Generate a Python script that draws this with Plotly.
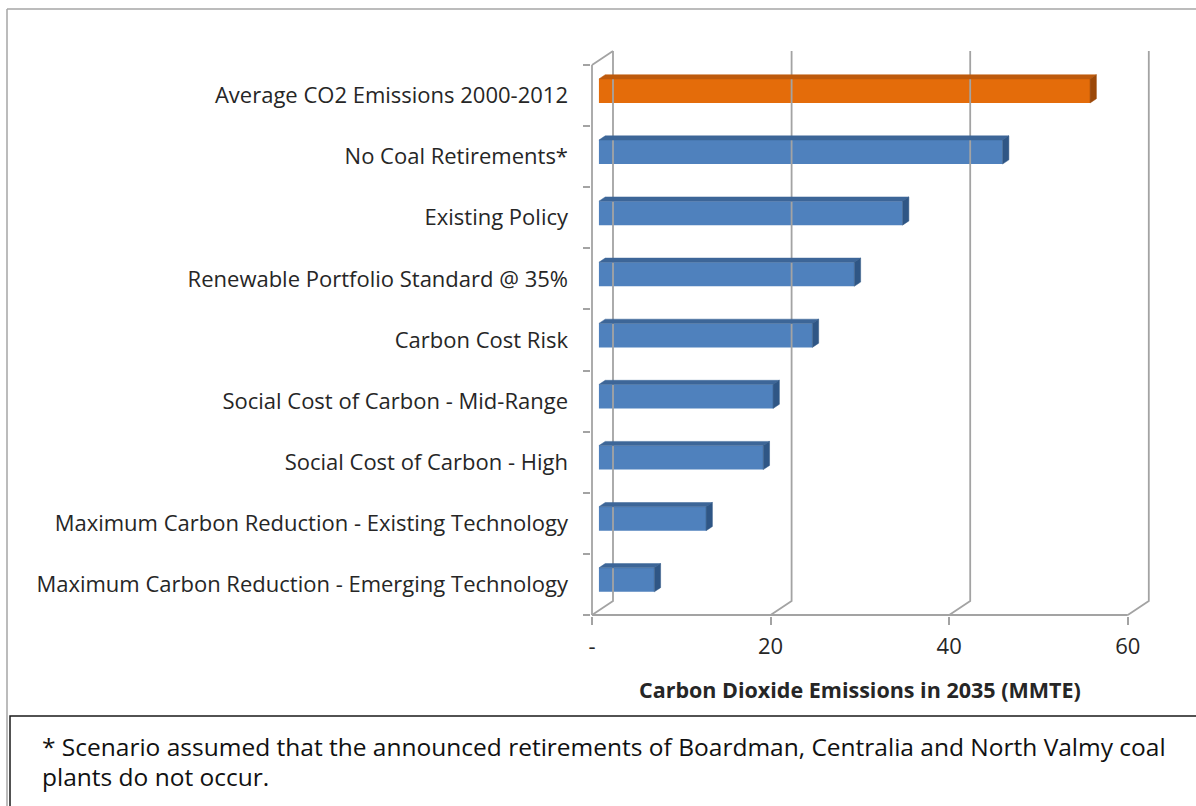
import plotly.graph_objects as go

# ---- data -------------------------------------------------------------
categories = [
    "Average CO2 Emissions 2000-2012",
    "No Coal Retirements*",
    "Existing Policy",
    "Renewable Portfolio Standard @ 35%",
    "Carbon Cost Risk",
    "Social Cost of Carbon - Mid-Range",
    "Social Cost of Carbon - High",
    "Maximum Carbon Reduction - Existing Technology",
    "Maximum Carbon Reduction - Emerging Technology",
]
emissions = [55.0, 45.2, 34.0, 28.6, 23.9, 19.5, 18.4, 12.0, 6.2]
highlight = [True, False, False, False, False, False, False, False, False]
x_ticks = [0, 20, 40, 60]
x_tick_labels = ["-", "20", "40", "60"]
axis_title = "Carbon Dioxide Emissions in 2035 (MMTE)"
footnote_lines = [
    "* Scenario assumed that the announced retirements of Boardman, Centralia and North Valmy coal",
    "plants do not occur.",
]

# ---- page geometry (pixels) ---------------------------------------------
W, H = 1196, 806
M_L, M_R, M_T, M_B = 591, 41, 48, 190
PX_X = 8.93          # pixels per emission unit
PX_Y = 61.1          # pixels per category slot
x_lo = -1.0 / PX_X
x_hi = x_lo + (W - M_L - M_R) / PX_X
y_top = -0.5 - 17 / PX_Y
y_bot = 8.5 + 1 / PX_Y

# pseudo-3D depth of the plot box, in data units
DX = 21 / PX_X
DY = -14 / PX_Y
# bars sit a third of the way back and are a third as deep as the box
bar_x0 = 0.33 * DX
bar_y0 = 0.33 * DY
bar_dx = 0.30 * DX
bar_dy = 0.30 * DY
bar_h = 24 / PX_Y

FONT = "Open Sans"
TXT = "#262626"
GRID = "#A3A3A3"

pos = list(range(len(categories)))

fig = go.Figure()

# walls: back gridlines with floor connectors, left wall, front axis line
wx, wy = [], []
for v in x_ticks:
    wx += [v + DX, v + DX, v, None]
    wy += [-0.5 + DY, 8.5 + DY, 8.5, None]
wx += [0, DX, None, 0, 0, None, 0, x_ticks[-1], None]
wy += [-0.5, -0.5 + DY, None, -0.5, 8.5, None, 8.5, 8.5, None]
fig.add_trace(go.Scatter(x=wx, y=wy, mode="lines",
                         line=dict(color=GRID, width=1.8),
                         hoverinfo="skip", showlegend=False))

front_col = ["#E46C0A" if h else "#4F81BD" for h in highlight]
top_col = ["#BE5A0C" if h else "#3D6698" for h in highlight]
side_col = ["#9C4808" if h else "#2F5685" for h in highlight]

# front faces
fig.add_trace(go.Bar(
    x=emissions, y=[p + bar_y0 for p in pos], base=bar_x0,
    orientation="h", width=bar_h,
    marker=dict(color=front_col, line=dict(width=0)),
    hoverinfo="skip", showlegend=False,
))

# top and side faces of each bar
for p, v, tc, sc in zip(pos, emissions, top_col, side_col):
    yc = p + bar_y0
    yt, yb = yc - bar_h / 2, yc + bar_h / 2
    x1 = bar_x0 + v
    fig.add_trace(go.Scatter(
        x=[bar_x0, x1, x1 + bar_dx, bar_x0 + bar_dx, bar_x0],
        y=[yt, yt, yt + bar_dy, yt + bar_dy, yt],
        mode="lines", fill="toself", fillcolor=tc,
        line=dict(width=0.5, color=tc), hoverinfo="skip", showlegend=False))
    fig.add_trace(go.Scatter(
        x=[x1, x1 + bar_dx, x1 + bar_dx, x1, x1],
        y=[yt, yt + bar_dy, yb + bar_dy, yb, yt],
        mode="lines", fill="toself", fillcolor=sc,
        line=dict(width=0.5, color=sc), hoverinfo="skip", showlegend=False))

# anchor for the category label axis
fig.add_trace(go.Scatter(x=[0] * len(pos), y=pos, yaxis="y2", mode="markers",
                         marker=dict(opacity=0), hoverinfo="skip",
                         showlegend=False))


def px_to_paper_x(px):
    return (px - M_L) / (W - M_L - M_R)


def px_to_paper_y(py):
    return (H - M_B - py) / (H - M_T - M_B)


# axis title centred under the 0-60 scale
fig.add_annotation(x=30, xref="x", y=px_to_paper_y(689), yref="paper",
                   text="<b>" + axis_title + "</b>", showarrow=False,
                   xanchor="center", yanchor="middle",
                   font=dict(family=FONT, size=21.5, color=TXT))

# outer chart frame
fig.add_shape(type="line", xref="paper", yref="paper",
              x0=px_to_paper_x(7), x1=px_to_paper_x(7),
              y0=px_to_paper_y(9), y1=px_to_paper_y(H + 5),
              line=dict(color="#A6A6A6", width=1.5))
fig.add_shape(type="line", xref="paper", yref="paper",
              x0=px_to_paper_x(7), x1=px_to_paper_x(W + 5),
              y0=px_to_paper_y(9), y1=px_to_paper_y(9),
              line=dict(color="#A6A6A6", width=1.5))

# footnote box
fig.add_shape(type="rect", xref="paper", yref="paper",
              x0=px_to_paper_x(10), x1=px_to_paper_x(W + 10),
              y0=px_to_paper_y(716), y1=px_to_paper_y(H + 10),
              line=dict(color="#1A1A1A", width=1.5), fillcolor="white")
for i, line in enumerate(footnote_lines):
    fig.add_annotation(x=px_to_paper_x(40), xref="paper",
                       y=px_to_paper_y(746 + 30 * i), yref="paper",
                       text=line, showarrow=False, xanchor="left",
                       yanchor="middle",
                       font=dict(family=FONT, size=24.5, color="#111111"))

fig.update_layout(
    width=W, height=H,
    margin=dict(l=M_L, r=M_R, t=M_T, b=M_B, pad=0),
    paper_bgcolor="white", plot_bgcolor="white",
    showlegend=False,
    xaxis=dict(range=[x_lo, x_hi], tickmode="array", tickvals=x_ticks,
               ticktext=x_tick_labels, ticks="outside", ticklen=8,
               tickwidth=1.5, tickcolor=GRID, showgrid=False,
               zeroline=False, showline=False, ticklabelstandoff=3,
               tickfont=dict(family=FONT, size=22, color=TXT)),
    yaxis=dict(range=[y_bot, y_top], tickmode="array",
               tickvals=[p - 0.5 for p in pos] + [pos[-1] + 0.5],
               ticks="outside", ticklen=7, tickwidth=1.5, tickcolor=GRID,
               showticklabels=False, showgrid=False, zeroline=False,
               showline=False),
    yaxis2=dict(range=[y_bot, y_top], overlaying="y", side="left",
                tickmode="array", tickvals=pos, ticktext=categories,
                ticks="", showgrid=False, zeroline=False, showline=False,
                ticklabelstandoff=22,
                tickfont=dict(family=FONT, size=22, color=TXT)),
)

fig.write_html("out.html")
